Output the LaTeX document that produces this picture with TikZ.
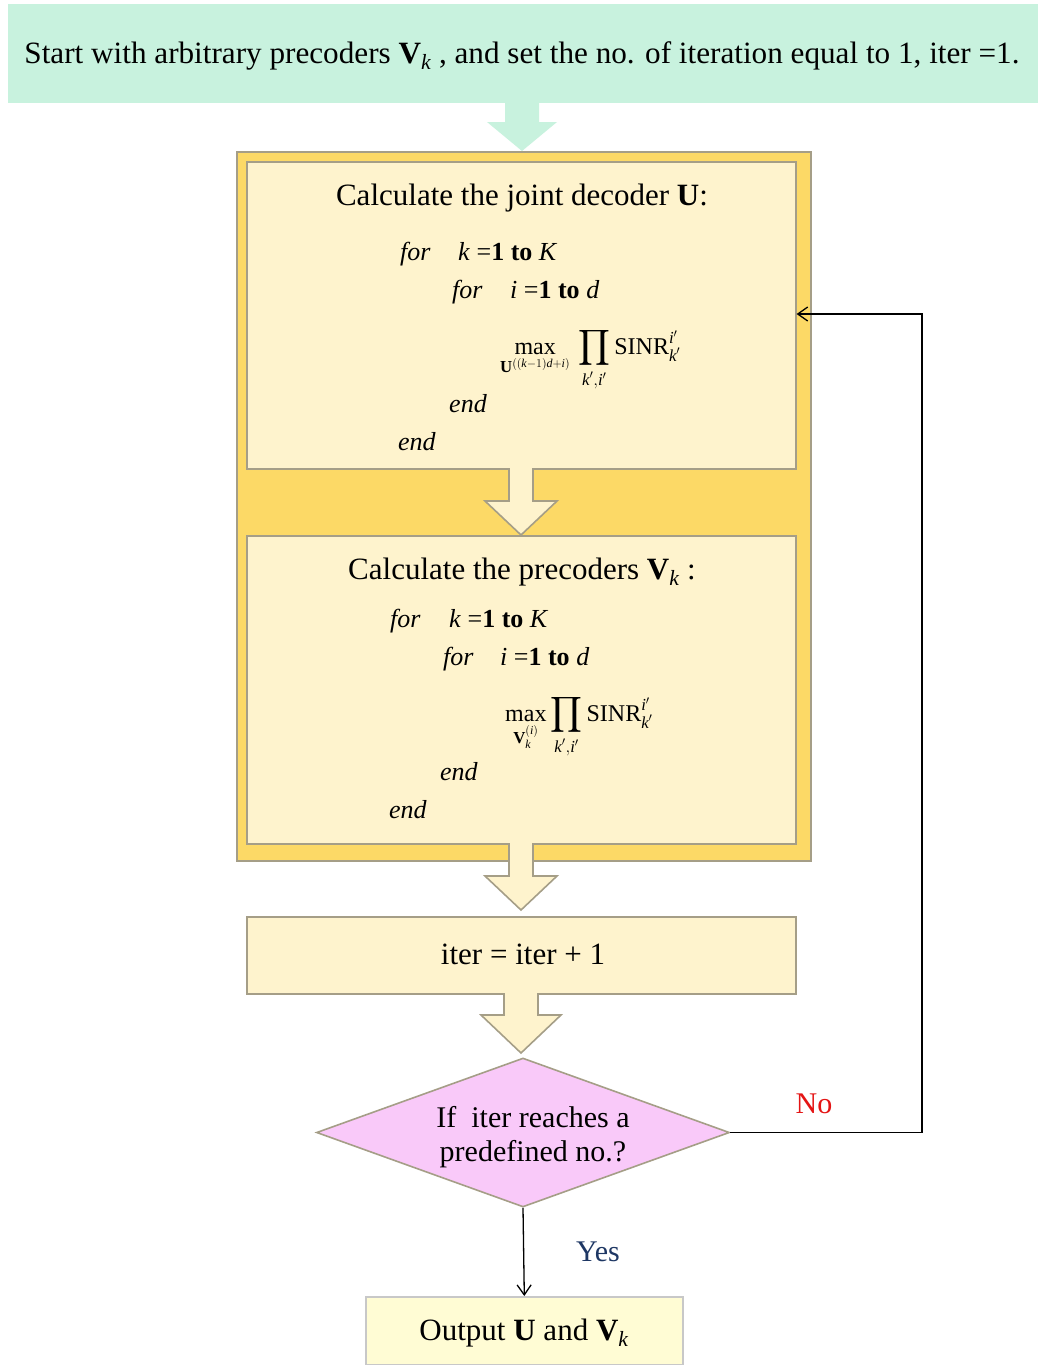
\documentclass[tikz,border=0pt]{standalone}
\usepackage{amsmath}
\usepackage{graphicx}
\usepackage{fontspec}
\setmainfont{Liberation Serif}
\usetikzlibrary{shapes.geometric,arrows.meta}

\definecolor{mint}{RGB}{200,242,222}
\definecolor{gold}{RGB}{252,217,102}
\definecolor{cream}{RGB}{254,243,205}
\definecolor{paleyellow}{RGB}{255,252,212}
\definecolor{orchid}{RGB}{249,201,249}
\definecolor{edge}{RGB}{165,158,135}
\definecolor{lightedge}{RGB}{200,200,200}
\definecolor{yesblue}{RGB}{30,55,100}
\definecolor{nored}{RGB}{228,20,20}

% outline of a downward block arrow: centre x, shaft top, head top, tip, shaft half width, head half width
\newcommand\downshape[6]{({#1-#5},#2) -- ({#1-#5},#3) -- ({#1-#6},#3) -- (#1,#4)
    -- ({#1+#6},#3) -- ({#1+#5},#3) -- ({#1+#5},#2)}
% filled block arrow with an edged outline (no edge along the shaft top)
\newcommand\blockdown[7]{%
  \fill[#7] \downshape{#1}{#2-2}{#3}{#4}{#5}{#6} -- cycle;
  \draw[arrowedge] \downshape{#1}{#2}{#3}{#4}{#5}{#6};}

\begin{document}
\begin{tikzpicture}[x=1pt,y=-1pt,
  panel/.style={draw=edge, line width=1.6pt, inner sep=0pt, anchor=north west},
  arrowedge/.style={draw=edge, line width=1.6pt, line join=miter},
  title/.style={inner sep=0pt, anchor=base, font=\fontsize{31}{36}\selectfont},
  code/.style={inner sep=0pt, anchor=base west, font=\fontsize{26}{30}\selectfont},
  formula/.style={inner sep=0pt, anchor=base west, font=\fontsize{24}{28}\selectfont},
  conn/.style={draw=black, line width=1.3pt, -{Straight Barb[length=10pt,width=14pt,line width=1.3pt]}},
  answer/.style={inner sep=0pt, anchor=base, font=\fontsize{30}{34}\selectfont}]

\useasboundingbox[fill=white] (0,0) rectangle (1038,1365);

% start banner
\node[panel, fill=mint, draw=none, minimum width=1031pt, minimum height=99pt] (banner) at (7,3) {};
\node[title] (start) at (522,63) {\resizebox{995pt}{\height}{Start with arbitrary precoders \textbf{V}$_{\textit{k}}$ , and set the no. of iteration equal to 1, iter =1.}};

% gold frame holding the two calculation steps
\node[panel, fill=gold, minimum width=574pt, minimum height=709pt] (outer) at (236,151) {};
\node[panel, fill=cream, minimum width=549pt, minimum height=307pt] (dec) at (246,161) {};
\node[panel, fill=cream, minimum width=549pt, minimum height=308pt] (pre) at (246,535) {};

% iteration counter, test and output
\node[panel, fill=cream, minimum width=549pt, minimum height=77pt] (iter) at (246,916) {};
\node[draw=edge, line width=1.6pt, fill=orchid, shape=diamond, inner sep=0pt,
      minimum width=413pt, minimum height=149pt] (cond) at (523,1132.5) {};
\node[panel, draw=lightedge, fill=paleyellow, minimum width=317pt, minimum height=68pt] (out) at (365,1296) {};

% block arrows
\fill[mint] \downshape{522}{100}{122}{151}{17}{35} -- cycle;
\blockdown{521}{468}{501}{535}{12}{36}{cream}
\blockdown{521}{843}{876}{910}{12}{36}{cream}
\blockdown{521}{993}{1015}{1053}{17}{40}{cream}

% decoder step
\node[title] (dectitle) at (522,205) {Calculate the joint decoder \textbf{U}:};
\node[code] (dfor1) at (400,260) {\textit{for}};
\node[code] (dk) at (458,260) {\textit{k} =\textbf{1 to} \textit{K}};
\node[code] (dfor2) at (452,298) {\textit{for}};
\node[code] (di) at (510,298) {\textit{i} =\textbf{1 to} \textit{d}};
\node[formula] (dmax) at (500,354) {$\displaystyle\max_{\rule{0pt}{13pt}\mathbf{U}^{((\textit{k}-1)\textit{d}+\textit{i})}}\,\prod_{\textit{k}',\textit{i}'}\text{SINR}^{\textit{i}'}_{\textit{k}'}$};
\node[code] (dend2) at (449,412) {\textit{end}};
\node[code] (dend1) at (398,450) {\textit{end}};

% precoder step
\node[title] (pretitle) at (522,579) {Calculate the precoders \textbf{V}$_{\textit{k}}$ :};
\node[code] (pfor1) at (390,627) {\textit{for}};
\node[code] (pk) at (449,627) {\textit{k} =\textbf{1 to} \textit{K}};
\node[code] (pfor2) at (443,665) {\textit{for}};
\node[code] (pi) at (500,665) {\textit{i} =\textbf{1 to} \textit{d}};
\node[formula] (pmax) at (505,721) {$\displaystyle\max_{\mathbf{V}^{(\textit{i})}_{\textit{k}}}\prod_{\textit{k}',\textit{i}'}\text{SINR}^{\textit{i}'}_{\textit{k}'}$};
\node[code] (pend2) at (440,780) {\textit{end}};
\node[code] (pend1) at (389,818) {\textit{end}};

% counter, test, output texts
\node[title] (itertext) at (523,964) {iter = iter + 1};
\node[inner sep=0pt, align=center, font=\fontsize{30}{34}\selectfont] (condtext) at (533,1137) {If\ \ iter reaches a\\predefined no.?};
\node[title] (outtext) at (524,1340) {Output \textbf{U} and \textbf{V}$_{\textit{k}}$};

% connectors
\coordinate (loop) at (922,314);
\coordinate (decin) at (dec.east |- loop);
\draw[conn] (cond.south) -- (out.north);
\draw[conn] (cond.east) -| (loop) -- (decin);
\node[answer, text=yesblue] (yes) at (598,1261) {Yes};
\node[answer, text=nored] (no) at (814,1113) {No};
\end{tikzpicture}
\end{document}
